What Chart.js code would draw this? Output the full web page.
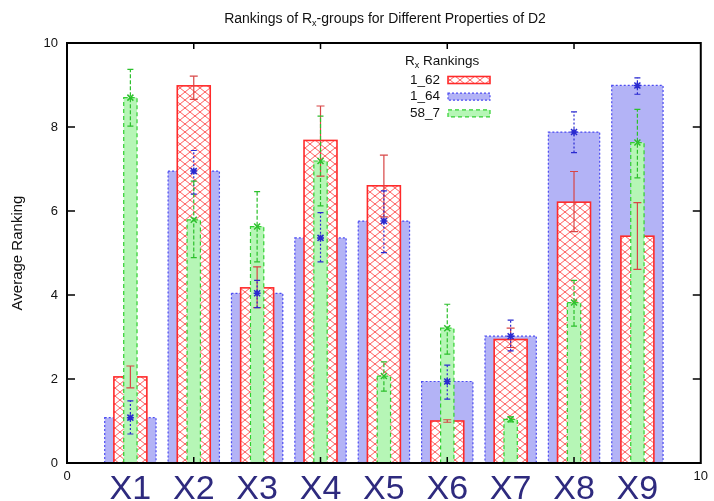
<!DOCTYPE html>
<html>
<head>
<meta charset="utf-8">
<script src="https://cdn.jsdelivr.net/npm/chart.js@4.4.1/dist/chart.umd.min.js"></script>
<style>
  html, body { margin: 0; padding: 0; background: #fff; }
  #wrap { width: 714px; height: 501px; }
</style>
</head>
<body>
<div id="wrap"><canvas id="rankChart" width="714" height="501"></canvas></div>
<script>
// categories and values
const categories = ["X1", "X2", "X3", "X4", "X5", "X6", "X7", "X8", "X9"];
const xPositions = [1, 2, 3, 4, 5, 6, 7, 8, 9];
const seriesNames = ["1_62", "1_64", "58_7"];

const rank162 = [2.05, 8.98, 4.17, 7.68, 6.60, 1.00, 2.94, 6.21, 5.40];
const rank162Low = [1.79, 8.66, 3.70, 6.83, 5.86, 0.97, 2.75, 5.51, 4.61];
const rank162High = [2.31, 9.21, 4.67, 8.50, 7.33, 1.03, 3.21, 6.94, 6.20];

const rank164 = [1.08, 6.95, 4.04, 5.36, 5.76, 1.94, 3.02, 7.88, 8.99];
const rank164Low = [0.69, 6.40, 3.70, 4.79, 5.01, 1.52, 2.67, 7.39, 8.78];
const rank164High = [1.48, 7.44, 4.35, 5.96, 6.48, 2.33, 3.40, 8.36, 9.17];

const rank587 = [8.70, 5.79, 5.63, 7.19, 2.07, 3.21, 1.04, 3.82, 7.63];
const rank587Low = [8.02, 4.89, 4.79, 6.12, 1.71, 2.59, 0.98, 3.26, 6.79];
const rank587High = [9.37, 6.71, 6.46, 8.26, 2.41, 3.78, 1.10, 4.35, 8.42];

const xTickLabels = [0, 10];
const yTicks = [0, 2, 4, 6, 8, 10];

const FONT = "'Liberation Sans', Arial, sans-serif";

// red cross hatch fill
function makeHatch() {
    const c = document.createElement("canvas");
    c.width = 10; c.height = 8;
    const g = c.getContext("2d");
    g.fillStyle = "#ffffff";
    g.fillRect(0, 0, 10, 8);
    g.strokeStyle = "#ff5c5c";
    g.lineWidth = 1;
    g.beginPath();
    g.moveTo(0, 0); g.lineTo(10, 8);
    g.moveTo(10, 0); g.lineTo(0, 8);
    g.stroke();
    return g.createPattern(c, "repeat");
}
const hatch = makeHatch();

function points(vals) {
    return vals.map((v, i) => ({ x: xPositions[i], y: v }));
}

// outlines of each bar, drawn right after its dataset
const barOutline = {
    id: "barOutline",
    afterDatasetDraw(chart, args) {
        const ds = chart.data.datasets[args.index];
        const ctx = chart.ctx;
        ctx.save();
        ctx.strokeStyle = ds.outlineColor;
        ctx.lineWidth = ds.outlineWidth;
        ctx.setLineDash(ds.outlineDash);
        args.meta.data.forEach(bar => {
            const p = bar.getProps(["x", "y", "base", "width"], true);
            ctx.strokeRect(p.x - p.width / 2, p.y, p.width, p.base - p.y);
        });
        ctx.restore();
    }
};

function drawMarker(ctx, type, x, y) {
    ctx.beginPath();
    if (type === "star") {
        ctx.moveTo(x - 3.5, y); ctx.lineTo(x + 3.5, y);
        ctx.moveTo(x, y - 3.5); ctx.lineTo(x, y + 3.5);
    }
    if (type === "star" || type === "cross") {
        ctx.moveTo(x - 3, y - 3); ctx.lineTo(x + 3, y + 3);
        ctx.moveTo(x + 3, y - 3); ctx.lineTo(x - 3, y + 3);
    }
    ctx.stroke();
}

// error bars on top of everything
const errorBars = {
    id: "errorBars",
    afterDatasetsDraw(chart) {
        const ctx = chart.ctx;
        const yScale = chart.scales.y;
        chart.data.datasets.forEach((ds, di) => {
            const meta = chart.getDatasetMeta(di);
            ctx.save();
            ctx.strokeStyle = ds.errColor;
            ctx.lineWidth = 1.2;
            meta.data.forEach((bar, i) => {
                const x = bar.x;
                const yl = yScale.getPixelForValue(ds.errLow[i]);
                const yh = yScale.getPixelForValue(ds.errHigh[i]);
                const cw = ds.capWidth;
                ctx.setLineDash(ds.errDash);
                ctx.beginPath();
                ctx.moveTo(x, yl); ctx.lineTo(x, yh);
                ctx.stroke();
                ctx.setLineDash([]);
                ctx.beginPath();
                ctx.moveTo(x - cw, yl); ctx.lineTo(x + cw, yl);
                ctx.moveTo(x - cw, yh); ctx.lineTo(x + cw, yh);
                ctx.stroke();
                ctx.lineWidth = 1.5;
                drawMarker(ctx, ds.marker, x, bar.y);
                ctx.lineWidth = 1.2;
            });
            ctx.restore();
        });
    }
};

// frame, inward ticks, title, legend, big category labels
const decorations = {
    id: "decorations",
    afterDraw(chart) {
        const ctx = chart.ctx;
        const a = chart.chartArea;
        const xs = chart.scales.x, ys = chart.scales.y;
        ctx.save();
        ctx.strokeStyle = "#000";
        ctx.lineWidth = 1.5;
        ys.ticks.forEach(t => {
            const y = ys.getPixelForValue(t.value);
            if (t.value === 0 || t.value === 10) return;
            ctx.beginPath();
            ctx.moveTo(a.left, y); ctx.lineTo(a.left + 8, y);
            ctx.moveTo(a.right, y); ctx.lineTo(a.right - 8, y);
            ctx.stroke();
        });
        xs.ticks.forEach(t => {
            const x = xs.getPixelForValue(t.value);
            if (t.value === 0 || t.value === 10) return;
            ctx.beginPath();
            ctx.moveTo(x, a.top); ctx.lineTo(x, a.top + 6);
            ctx.moveTo(x, a.bottom); ctx.lineTo(x, a.bottom - 6);
            ctx.stroke();
        });
        ctx.lineWidth = 2;
        ctx.strokeRect(a.left, a.top, a.right - a.left, a.bottom - a.top);

        // title with subscript
        ctx.fillStyle = "#111";
        ctx.textBaseline = "alphabetic";
        const big = "14px " + FONT, sub = "9px " + FONT;
        const parts = [["Rankings of R", big, 0], ["x", sub, 3], ["-groups for Different Properties of D2", big, 0]];
        let total = 0;
        parts.forEach(p => { ctx.font = p[1]; total += ctx.measureText(p[0]).width; });
        let tx = 385 - total / 2;
        parts.forEach(p => {
            ctx.font = p[1];
            ctx.fillText(p[0], tx, 23 + p[2]);
            tx += ctx.measureText(p[0]).width;
        });

        // legend
        const lf = "13.5px " + FONT;
        ctx.font = lf;
        ctx.textAlign = "left";
        ctx.fillText("R", 405, 65);
        let lx = 405 + ctx.measureText("R").width;
        ctx.font = "9px " + FONT;
        ctx.fillText("x", lx, 68);
        lx += ctx.measureText("x").width;
        ctx.font = lf;
        ctx.fillText(" Rankings", lx, 65);
        const order = [0, 1, 2];
        order.forEach((di, r) => {
            const ds = chart.data.datasets[di];
            const cy = 80 + r * 16.7;
            ctx.font = lf;
            ctx.textAlign = "right";
            ctx.textBaseline = "middle";
            ctx.fillStyle = "#111";
            ctx.fillText(ds.label, 440, cy);
            ctx.fillStyle = ds.backgroundColor;
            ctx.fillRect(448, cy - 3.5, 42, 7);
            ctx.strokeStyle = ds.outlineColor;
            ctx.lineWidth = ds.outlineWidth;
            ctx.setLineDash(ds.outlineDash);
            ctx.strokeRect(448, cy - 3.5, 42, 7);
            ctx.setLineDash([]);
        });

        // big category labels
        ctx.font = "34px " + FONT;
        ctx.fillStyle = "#2e2a7e";
        ctx.textAlign = "center";
        ctx.textBaseline = "alphabetic";
        categories.forEach((c, i) => {
            ctx.fillText(c, xs.getPixelForValue(xPositions[i]), 499);
        });
        ctx.restore();
    }
};

document.addEventListener("DOMContentLoaded", function() {
    const ctx = document.getElementById("rankChart").getContext("2d");

    new Chart(ctx, {
        type: "bar",
        data: {
            datasets: [
                {
                    label: seriesNames[0],
                    data: points(rank162),
                    errLow: rank162Low, errHigh: rank162High,
                    backgroundColor: hatch,
                    outlineColor: "#ff2a2a", outlineWidth: 1.6, outlineDash: [],
                    errColor: "#d84545", errDash: [], capWidth: 4, marker: "none",
                    barPercentage: 0.52, categoryPercentage: 1,
                    order: 1
                },
                {
                    label: seriesNames[1],
                    data: points(rank164),
                    errLow: rank164Low, errHigh: rank164High,
                    backgroundColor: "#b3b3f6",
                    outlineColor: "#4b4bf2", outlineWidth: 1.2, outlineDash: [2, 2],
                    errColor: "#2a2ad0", errDash: [2, 2], capWidth: 3, marker: "star",
                    barPercentage: 0.81, categoryPercentage: 1,
                    order: 2
                },
                {
                    label: seriesNames[2],
                    data: points(rank587),
                    errLow: rank587Low, errHigh: rank587High,
                    backgroundColor: "#b6f6b6",
                    outlineColor: "#2fd02f", outlineWidth: 1.2, outlineDash: [4, 3],
                    errColor: "#2cc02c", errDash: [4, 2], capWidth: 3, marker: "cross",
                    barPercentage: 0.21, categoryPercentage: 1,
                    order: 0
                }
            ]
        },
        options: {
            responsive: false,
            animation: false,
            grouped: false,
            borderWidth: 0,
            layout: { padding: { top: 43, right: 11, left: 0, bottom: 0 } },
            plugins: {
                legend: { display: false },
                tooltip: { enabled: false }
            },
            scales: {
                x: {
                    type: "linear",
                    min: 0, max: 10,
                    offset: false,
                    grid: { display: false, drawTicks: false },
                    border: { display: false },
                    ticks: {
                        stepSize: 2,
                        padding: 6,
                        color: "#111",
                        font: { family: FONT, size: 13 },
                        maxRotation: 0,
                        callback: v => xTickLabels.includes(v) ? String(v) : ""
                    },
                    afterFit: s => { s.height = 38; }
                },
                y: {
                    min: 0, max: 10,
                    grid: { display: false, drawTicks: false },
                    border: { display: false },
                    afterBuildTicks: s => { s.ticks = yTicks.map(v => ({ value: v })); },
                    ticks: {
                        padding: 9,
                        color: "#111",
                        font: { family: FONT, size: 13 }
                    },
                    title: {
                        display: true,
                        text: "Average Ranking",
                        color: "#111",
                        font: { family: FONT, size: 15 },
                        padding: { top: 9, bottom: 0 }
                    },
                    afterFit: s => { s.width = 67; }
                }
            }
        },
        plugins: [barOutline, errorBars, decorations]
    });
});
</script>
</body>
</html>
